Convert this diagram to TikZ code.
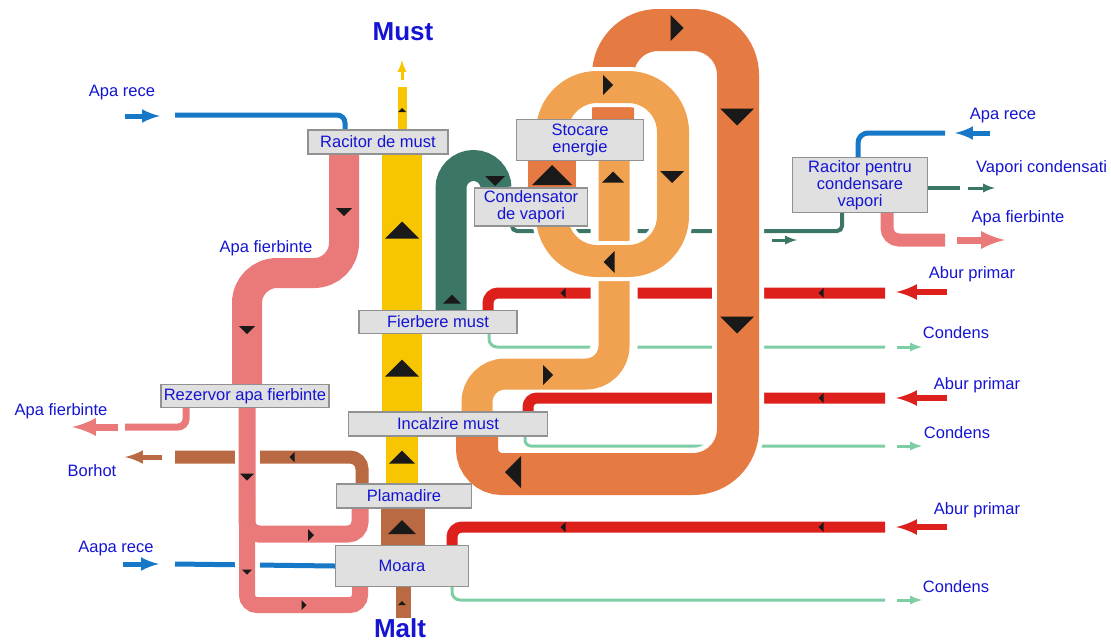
\documentclass[tikz,border=0pt]{standalone}
\usepackage{fontspec}
\setmainfont{Liberation Sans}
\usetikzlibrary{backgrounds,positioning,calc}

\definecolor{txtblue}{RGB}{20,20,210}
\definecolor{boxfill}{RGB}{224,224,224}
\definecolor{boxgray}{RGB}{145,145,145}
\definecolor{coldblue}{RGB}{24,120,200}
\definecolor{hotpink}{RGB}{234,122,122}
\definecolor{mustyellow}{RGB}{248,198,0}
\definecolor{vaporteal}{RGB}{60,118,102}
\definecolor{warmorange}{RGB}{240,162,80}
\definecolor{hotorange}{RGB}{229,122,66}
\definecolor{steamred}{RGB}{222,32,28}
\definecolor{condgreen}{RGB}{125,205,165}
\definecolor{maltbrown}{RGB}{185,106,66}

\begin{document}
\begin{tikzpicture}
    [>=latex, x=1pt, y=1pt, font=\fontsize{16.5}{17}\selectfont,
     box/.style={draw=boxgray, fill=boxfill, line width=1.2pt, text=txtblue, align=center, inner sep=1pt},
     txt/.style={text=txtblue, align=center, inner sep=1pt},
     title/.style={text=txtblue, inner sep=0pt, font=\fontsize{26}{28}\selectfont\bfseries},
     hot/.style={draw=hotorange, line width=42pt, preaction={draw=white, line width=52pt}},
     warm/.style={draw=warmorange, line width=31pt, preaction={draw=white, line width=47pt}},
     ring/.style={draw=warmorange, line width=32pt, preaction={draw=white, line width=40pt}},
     steam/.style={draw=steamred, line width=11pt},
     cond/.style={draw=condgreen, line width=3pt},
     cold/.style={draw=coldblue, line width=5pt},
     vapor/.style={draw=vaporteal, line width=4pt},
     hotwater/.style={draw=hotpink},
     malt/.style={draw=maltbrown}]

    \useasboundingbox (0,0) rectangle (1111,-643);

    % apparatus
    \node[box, minimum width=140pt, minimum height=24pt] (racmust) at (378,-142) {Racitor de must};
    \node[box, minimum width=127pt, minimum height=41pt] (stocare) at (580,-140) {Stocare\\energie};
    \node[box, minimum width=113pt, minimum height=38pt] (condens) at (531,-207) {Condensator\\de vapori};
    \node[box, minimum width=135pt, minimum height=55pt] (racvap) at (860,-185) {Racitor pentru\\condensare\\vapori};
    \node[box, minimum width=158pt, minimum height=23pt] (fierbere) at (438,-322) {Fierbere must};
    \node[box, minimum width=168pt, minimum height=23pt] (rezervor) at (245,-396) {Rezervor apa fierbinte};
    \node[box, minimum width=199pt, minimum height=24pt] (incalzire) at (448,-424) {Incalzire must};
    \node[box, minimum width=135pt, minimum height=24pt] (plamadire) at (404,-496) {Plamadire};
    \node[box, minimum width=133pt, minimum height=41pt] (moara) at (402,-566) {Moara};

    % texts
    \node[title] (must) at (403,-32) {Must};
    \node[title, anchor=base] (malt) at (400,-637) {Malt};
    \node[txt] (aparece1) at (122,-93) {Apa rece};
    \node[txt] (apafierb1) at (266,-248) {Apa fierbinte};
    \node[txt] (apafierb2) at (61,-411) {Apa fierbinte};
    \node[txt] (borhot) at (92,-471) {Borhot};
    \node[txt] (aparece2) at (116,-549) {Aapa rece};
    \node[txt] (aparece3) at (1003,-116) {Apa rece};
    \node[txt, anchor=west] (vapcond) at (975,-168) {Vapori condensati};
    \node[txt] (apafierb3) at (1018,-218) {Apa fierbinte};
    \node[txt] (abur1) at (972,-274) {Abur primar};
    \node[txt] (condens1) at (956,-333) {Condens};
    \node[txt] (abur2) at (977,-385) {Abur primar};
    \node[txt] (condens2) at (957,-433) {Condens};
    \node[txt] (abur3) at (977,-510) {Abur primar};
    \node[txt] (condens3) at (956,-587) {Condens};

    \begin{scope}[on background layer]
        % thin lines, cut by the orange pipes
        \draw[vapor, rounded corners=5pt] ([xshift=-19pt]condens.south) -- (512,-231) -- (842,-231) -- ([xshift=-18pt]racvap.south);
        \draw[steam, rounded corners=10pt] (885,-293) -- (488,-293) -- ([xshift=50pt]fierbere.north);
        \draw[cond, rounded corners=8pt] ([xshift=51pt]fierbere.south) -- (489,-347) -- (885,-347);
        \draw[steam, rounded corners=10pt] (885,-527) -- (452,-527) -- ([xshift=50pt]moara.north);
        \draw[cond, rounded corners=8pt] ([xshift=50pt]moara.south) -- (452,-600) -- (885,-600);
        \draw[cold, rounded corners=8pt] (175,-115) -- (345,-115) -- ([xshift=-33pt]racmust.north);
        \draw[cold, rounded corners=10pt] ([xshift=-2pt]racvap.north) -- (858,-133) -- (945,-133);
        \draw[cold] (175,-564) -- (moara.west);
        \draw[malt, line width=13pt, rounded corners=12pt] ([xshift=-42pt]plamadire.north) -- (362,-457) -- (175,-457);
        \draw[hotwater, line width=7pt, rounded corners=8pt] ([xshift=-59pt]rezervor.south) -- (186,-427) -- (125,-427);
        \draw[hotwater, line width=13pt, rounded corners=12pt] ([xshift=27pt]racvap.south) -- (887,-240) -- (945,-240);
        \draw[vapor] ([yshift=-3pt]racvap.east) -- (960,-188);

        % short arrows at the free ends
        \draw[cold, ->] (125,-116) -- (160,-116);
        \draw[cold, ->] (123,-564) -- (159,-564);
        \draw[cold, ->] (990,-133) -- (955,-133);
        \draw[hotwater, line width=7pt, ->] (118,-427) -- (72,-427);
        \draw[hotwater, line width=7pt, ->] (957,-240) -- (1005,-240);
        \draw[malt, line width=5pt, ->] (162,-457) -- (125,-457);
        \draw[vapor, line width=3pt, ->] (968,-188) -- (995,-188);
        \draw[vapor, line width=3pt, ->] (772,-240) -- (797,-240);
        \draw[mustyellow, line width=3pt, ->] (402,-80) -- (402,-60);
        \foreach \y in {-292,-398,-527}
            \draw[steamred, line width=6pt, ->] (947,\y) -- (896,\y);
        \foreach \y in {-347,-446,-600}
            \draw[cond, ->] (897,\y) -- (922,\y);

        % energy loops
        \draw[warm, rounded corners=28pt] ([xshift=29pt]incalzire.north) -- (477,-374) -- (614,-374) -- ([xshift=34pt]stocare.south);
        \draw[steam, rounded corners=9pt] (885,-398) -- (528,-398) -- ([xshift=80pt]incalzire.north);
        \draw[cond, rounded corners=6pt] ([xshift=77pt]incalzire.south) -- (525,-446) -- (885,-446);
        \draw[hot, rounded corners=45pt] ([xshift=33pt]stocare.north) -- (613,-30) -- (738,-30) -- (738,-474)
            [rounded corners=25pt] -- (477,-474) -- ([xshift=29pt]incalzire.south);
        \draw[ring, rounded corners=45pt] (552,-87) rectangle (673,-261);
        \draw[hotorange, line width=48pt] ([xshift=21pt]condens.north) -- ([xshift=-28pt]stocare.south);

        % must, malt and vapour lines
        \draw[mustyellow, line width=9pt] (402,-87) -- ([xshift=24pt]racmust.north);
        \draw[mustyellow, line width=40pt] ([xshift=24pt]racmust.south) -- ([xshift=-46pt]incalzire.north);
        \draw[mustyellow, line width=32pt] ([xshift=-46pt]incalzire.south) -- ([xshift=-2pt]plamadire.north);
        \draw[malt, line width=44pt] ([xshift=-1pt]plamadire.south) -- ([xshift=1pt]moara.north);
        \draw[malt, line width=15pt] ([xshift=1pt]moara.south) -- (403,-618);
        \draw[vaporteal, line width=31pt] ([xshift=13pt]fierbere.north) -- (451,-188)
            arc[start angle=180, end angle=0, radius=22.5pt] -- ([xshift=-35pt]condens.north);

        % hot water
        \draw[white, line width=25pt] (247,-440) -- (247,-575);
        \draw[hotwater, line width=30pt, rounded corners=30pt] ([xshift=-34pt]racmust.south) -- (344,-273) -- (247,-273) -- ([xshift=2pt]rezervor.north);
        \draw[hotwater, line width=17pt, rounded corners=12pt] ([xshift=2pt]rezervor.south) -- (247,-534) -- (360,-534) -- ([xshift=-44pt]plamadire.south);
        \draw[hotwater, line width=16pt, rounded corners=10pt] (247,-500) -- (247,-605) -- (360,-605) -- ([xshift=-42pt]moara.south);

        % flow marks
        \foreach \x/\y/\s in {402/-110/4, 402/-230/17, 402/-368/17, 402/-457/13, 402/-527/14, 402/-603/4,
                              452/-299/9, 552/-175/20, 613/-177/11}
            \fill[black!90] (\x,\y+0.5*\s) -- (\x-\s,\y-0.5*\s) -- (\x+\s,\y-0.5*\s) -- cycle;
        \foreach \x/\y/\s in {344/-212/8, 247/-330/8, 247/-477/7, 247/-572/5, 495/-181/10,
                              672/-177/12, 737/-117/17, 737/-325/17}
            \fill[black!90] (\x,\y-0.5*\s) -- (\x-\s,\y+0.5*\s) -- (\x+\s,\y+0.5*\s) -- cycle;
        \foreach \x/\y/\s in {677/-28/13, 608/-85/10, 548/-375/10, 311/-535/6, 304/-605/5}
            \fill[black!90] (\x+0.5*\s,\y) -- (\x-0.5*\s,\y-\s) -- (\x-0.5*\s,\y+\s) -- cycle;
        \foreach \x/\y/\s in {513/-472/16, 609/-262/11, 563/-293/5, 821/-293/5, 821/-398/5,
                              563/-527/5, 821/-527/5, 292/-457/5}
            \fill[black!90] (\x-0.5*\s,\y) -- (\x+0.5*\s,\y-\s) -- (\x+0.5*\s,\y+\s) -- cycle;
    \end{scope}

\end{tikzpicture}
\end{document}
